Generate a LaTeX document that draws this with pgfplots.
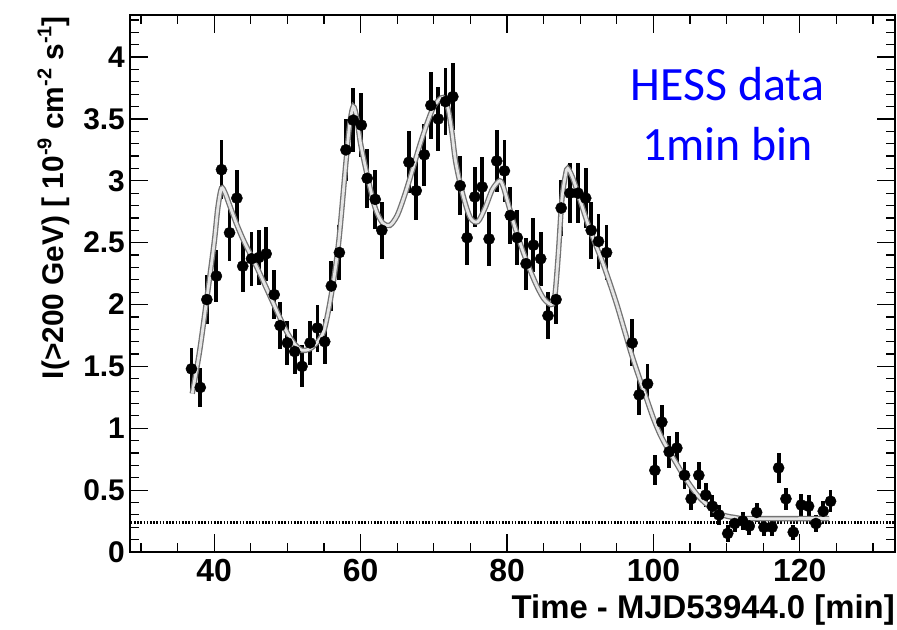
\documentclass[border=0pt]{standalone}
\usepackage{pgfplots}
\usepackage{pgfplotstable}
\pgfplotsset{compat=1.18}
\usepackage{fontspec}
\setmainfont{Liberation Sans}
\newfontfamily\calfont{Carlito}
\definecolor{hessblue}{RGB}{0,0,255}

\pgfplotstableread{
x y e
36.9 1.48 0.17
38.1 1.33 0.16
39.0 2.04 0.20
40.3 2.23 0.21
41.0 3.09 0.24
42.1 2.58 0.23
43.1 2.86 0.23
43.9 2.31 0.21
45.1 2.37 0.22
46.1 2.38 0.22
47.1 2.41 0.22
48.2 2.08 0.20
49.0 1.83 0.19
50.0 1.69 0.18
51.0 1.62 0.18
52.0 1.50 0.17
53.1 1.69 0.18
54.1 1.81 0.19
55.1 1.70 0.18
56.0 2.15 0.20
57.1 2.42 0.22
58.0 3.25 0.25
59.0 3.49 0.26
60.1 3.45 0.26
60.9 3.02 0.24
62.0 2.85 0.24
62.9 2.60 0.23
66.6 3.15 0.25
67.6 2.92 0.24
68.7 3.21 0.25
69.6 3.61 0.27
70.6 3.50 0.26
71.6 3.64 0.27
72.6 3.68 0.27
73.6 2.96 0.24
74.55 2.54 0.22
75.6 2.87 0.24
76.6 2.95 0.24
77.55 2.53 0.22
78.6 3.16 0.25
79.65 3.08 0.25
80.45 2.72 0.23
81.4 2.54 0.22
82.6 2.33 0.21
83.6 2.48 0.22
84.6 2.37 0.22
85.6 1.91 0.19
86.7 2.04 0.20
87.4 2.78 0.23
88.6 2.90 0.24
89.7 2.90 0.24
90.75 2.86 0.24
91.5 2.60 0.23
92.5 2.51 0.22
93.6 2.42 0.22
97.1 1.69 0.19
98.05 1.27 0.16
99.2 1.36 0.16
100.2 0.66 0.12
101.15 1.05 0.14
102.15 0.81 0.13
103.2 0.84 0.13
104.25 0.62 0.11
105.15 0.43 0.09
106.2 0.62 0.11
107.15 0.46 0.10
108.05 0.37 0.09
108.95 0.30 0.08
110.15 0.15 0.07
111.1 0.23 0.07
112.2 0.25 0.07
113.1 0.21 0.07
114.1 0.32 0.08
115.1 0.20 0.07
116.2 0.20 0.07
117.1 0.68 0.12
118.1 0.43 0.09
119.1 0.16 0.06
120.2 0.38 0.09
121.2 0.37 0.09
122.2 0.23 0.07
123.2 0.33 0.08
124.2 0.41 0.09
}\datatable

\pgfplotstableread{
x y
37 1.28
38 1.62
39 2.05
40 2.50
40.5 2.78
41 2.94
41.5 2.90
42 2.82
43 2.66
44 2.52
45 2.40
46 2.28
47 2.15
48 2.02
49 1.89
50 1.77
51 1.68
52 1.63
53 1.64
54 1.69
55 1.79
56 2.08
57 2.50
58 3.15
58.5 3.45
59 3.60
59.5 3.50
60 3.30
61 3.02
62 2.78
63 2.66
64 2.64
65 2.72
66 2.88
67 3.07
68 3.27
69 3.45
70 3.60
71 3.67
71.5 3.66
72 3.57
72.5 3.38
73 3.15
74 2.88
75 2.70
76 2.67
77 2.78
78 2.93
79 3.00
79.5 2.95
80 2.85
81 2.64
82 2.46
83 2.30
84 2.16
85 2.05
86 2.00
86.5 2.05
87 2.40
87.5 2.85
88 3.05
88.3 3.10
89 3.02
90 2.84
91 2.66
92 2.50
93 2.35
94 2.18
95 2.00
96 1.80
97 1.60
98 1.42
99 1.25
100 1.08
101 0.94
102 0.83
103 0.73
104 0.63
105 0.54
106 0.46
107 0.40
108 0.35
109 0.31
110 0.29
111 0.28
113 0.27
124 0.27
}\fittable

\begin{document}
\begin{tikzpicture}
\path[use as bounding box] (-130bp,-78bp) rectangle (767bp,552bp);
\begin{axis}[
  at={(0,0)}, anchor=south west,
  scale only axis,
  width=765bp, height=537bp,
  xmin=28.5, xmax=133, ymin=0, ymax=4.34,
  xtick={40,60,80,100,120},
  minor xtick={30,35,...,130},
  ytick={0,0.5,1,1.5,2,2.5,3,3.5,4},
  minor ytick={0.1,0.2,0.3,0.4,0.6,0.7,0.8,0.9,1.1,1.2,1.3,1.4,1.6,1.7,1.8,1.9,2.1,2.2,2.3,2.4,2.6,2.7,2.8,2.9,3.1,3.2,3.3,3.4,3.6,3.7,3.8,3.9,4.1,4.2,4.3},
  tick align=inside,
  major tick length=18bp,
  minor tick length=9bp,
  axis line style={line width=1.6bp},
  every tick/.style={black, line width=1.2bp},
  /pgf/number format/assume math mode=true,
  x tick label style={font=\fontsize{32}{32}\selectfont\bfseries, inner sep=0pt, yshift=-7bp},
  y tick label style={font=\fontsize{30}{30}\selectfont\bfseries, inner sep=0pt, xshift=-5bp},
  xlabel={Time - MJD53944.0 [min]},
  xlabel style={font=\fontsize{33}{33}\selectfont\bfseries, at={(rel axis cs:1,0)}, anchor=north east, inner sep=0pt, yshift=-42bp},
  ylabel={I(>200 GeV) [ 10\raisebox{0.42em}{\fontsize{20}{20}\selectfont -9} cm\raisebox{0.42em}{\fontsize{20}{20}\selectfont -2} s\raisebox{0.42em}{\fontsize{20}{20}\selectfont -1}]},
  ylabel style={font=\fontsize{30}{30}\selectfont\bfseries, at={(rel axis cs:-0.078,0.998)}, anchor=south east, inner sep=0pt},
  clip=false,
]
\addplot[black, line width=3.2bp, dash pattern=on 1.6bp off 1.6bp] coordinates {(28.6,0.24) (132.9,0.24)};
\addplot[black, only marks, mark=*, mark size=5.6bp, mark options={fill=black, draw=black},
  error bars/.cd, y dir=both, y explicit, error mark=none,
  error bar style={line width=3.8bp, black}]
  table[x=x, y=y, y error=e] {\datatable};
\addplot[smooth, tension=0.5, draw=black!55, line width=1.3bp, double=black!10, double distance=2.8bp] table[x=x, y=y] {\fittable};
\node[anchor=base, font=\calfont\fontsize{48}{48}\selectfont, text=hessblue, inner sep=0pt] at (axis cs:110.1,3.65) {HESS data};
\node[anchor=base, font=\calfont\fontsize{48}{48}\selectfont, text=hessblue, inner sep=0pt] at (axis cs:110.1,3.16) {1min bin};
\end{axis}
\end{tikzpicture}
\end{document}
